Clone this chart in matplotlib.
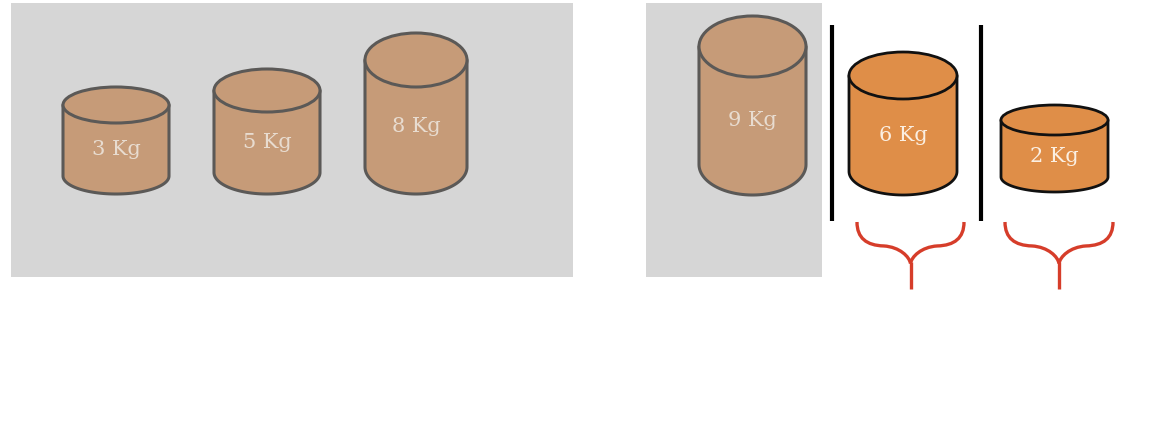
import matplotlib
matplotlib.use("Agg")
import matplotlib.pyplot as plt
import numpy as np
from matplotlib.patches import Ellipse, Rectangle, PathPatch
from matplotlib.path import Path

# weights shown on the cylinders
weights = [3, 5, 8, 9, 6, 2]
labels = [f"{w} Kg" for w in weights]
selected = [False, False, False, False, True, True]

# layout in pixel coordinates (x_left, x_right, top, bottom, ellipse height)
x_left = [63, 214, 365, 699, 849, 1001]
x_right = [169, 320, 467, 806, 957, 1108]
y_top = [87, 69, 33, 16, 52, 105]
y_bottom = [194, 194, 194, 195, 195, 192]
ell_h = [36, 43, 54, 61, 47, 30]

GRAY_BG = "#d6d6d6"
GRAY_FILL = "#c69b78"
GRAY_EDGE = "#5b5957"
ORANGE = "#df8e48"
RED = "#d63d2a"


def draw_cylinder(ax, x0, x1, top, bottom, eh, fill, edge, lw):
    cx = (x0 + x1) / 2
    w = x1 - x0
    ry = eh / 2
    yt = top + ry
    yb = bottom - ry
    # lower half ellipse, left to right
    th = np.linspace(np.pi, 2 * np.pi, 60)
    ax_ = cx + (w / 2) * np.cos(th)
    ay_ = yb - ry * np.sin(th)
    xs = np.concatenate([[x0], ax_, [x1]])
    ys = np.concatenate([[yt], ay_, [yt]])
    verts = list(zip(xs, ys)) + [(x0, yt)]
    codes = [Path.MOVETO] + [Path.LINETO] * (len(verts) - 2) + [Path.CLOSEPOLY]
    ax.add_patch(PathPatch(Path(verts, codes), facecolor=fill, edgecolor="none", zorder=3))
    ax.plot(xs, ys, color=edge, lw=lw, zorder=4, solid_capstyle="round")
    ax.add_patch(Ellipse((cx, yt), w, eh, facecolor=fill, edgecolor=edge, lw=lw, zorder=5))
    return cx, (yt + bottom) / 2


def draw_brace(ax, x0, x1, top, bottom):
    cx = (x0 + x1) / 2
    half = (x1 - x0) / 2
    h = bottom - top
    mid = top + 0.35 * h
    join = top + 0.62 * h
    for s in (-1, 1):
        xa = cx + s * half
        xm = cx + s * half * 0.5
        verts = [
            (xa, top),
            (xa, top + 0.24 * h), (cx + s * half * 0.82, mid), (xm, mid + 0.5),
            (cx + s * half * 0.2, mid + 1.5), (cx + s * 1.0, join - 0.1 * h), (cx, join),
        ]
        codes = [Path.MOVETO] + [Path.CURVE4] * 6
        ax.add_patch(PathPatch(Path(verts, codes), facecolor="none", edgecolor=RED,
                               lw=2.4, zorder=3, capstyle="butt"))
    ax.plot([cx, cx], [join - 2, bottom], color=RED, lw=2.4, zorder=3,
            solid_capstyle="butt")


fig = plt.figure(figsize=(11.72, 4.30), dpi=100)
ax = fig.add_axes([0, 0, 1, 1])
ax.set_xlim(0, 1172)
ax.set_ylim(430, 0)
ax.axis("off")

ax.add_patch(Rectangle((11, 3), 562, 274, facecolor=GRAY_BG, edgecolor="none", zorder=1))
ax.add_patch(Rectangle((646, 3), 176, 274, facecolor=GRAY_BG, edgecolor="none", zorder=1))

for i, lab in enumerate(labels):
    if selected[i]:
        fill, edge, lw, tc = ORANGE, "#111111", 2.0, "#fbefe2"
    else:
        fill, edge, lw, tc = GRAY_FILL, GRAY_EDGE, 2.2, "#e8dcd0"
    cx, ty = draw_cylinder(ax, x_left[i], x_right[i], y_top[i], y_bottom[i], ell_h[i],
                           fill, edge, lw)
    ax.text(cx, ty, lab, ha="center", va="center", color=tc, fontsize=15,
            family="DejaVu Serif", zorder=6)

# separators
for x in (832, 981):
    ax.plot([x, x], [25, 221], color="black", lw=3, zorder=3, solid_capstyle="butt")

draw_brace(ax, 857, 964, 222, 289)
draw_brace(ax, 1005, 1113, 222, 289)

fig.savefig("out.png", dpi=100, facecolor="white")
